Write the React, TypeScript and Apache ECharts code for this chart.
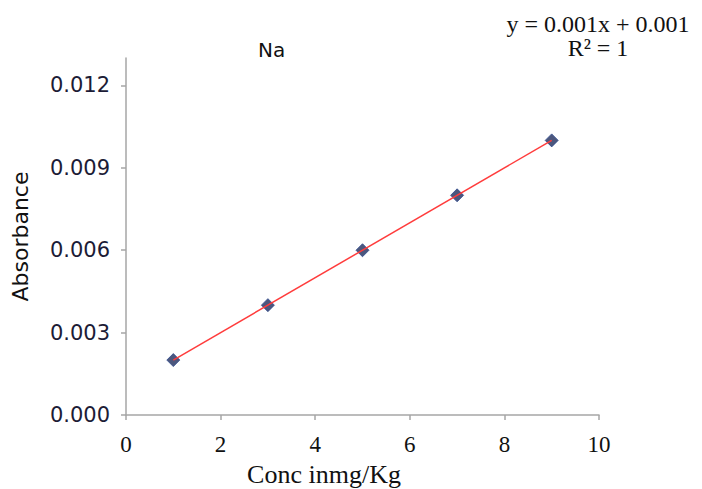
import React, { useEffect, useRef } from "react";
import * as echarts from "echarts";

const concentrations = [1, 3, 5, 7, 9];
const absorbance = [0.002, 0.004, 0.006, 0.008, 0.01];
const trendX = [1, 9];
const trendY = [0.002, 0.01];
const yTicks = [0, 0.003, 0.006, 0.009, 0.012];
const chartTitle = "Na";
const equationLines = ["y = 0.001x + 0.001", "R² = 1"];
const xName = "Conc inmg/Kg";
const yName = "Absorbance";

export default function App() {
  const ref = useRef<HTMLDivElement>(null);
  useEffect(() => {
    if (!ref.current) return;
    const chart = echarts.init(ref.current, undefined, { renderer: "svg" });
    const axisColor = "#A6A6A6";
    chart.setOption({
      animation: false,
      backgroundColor: "#ffffff",
      grid: { left: 126, right: 103, top: 58, bottom: 74 },
      xAxis: {
        type: "value",
        min: 0,
        max: 10,
        interval: 2,
        splitLine: { show: false },
        axisLine: { onZero: false, lineStyle: { color: axisColor, width: 1.5 } },
        axisTick: { show: true, inside: false, length: 5, lineStyle: { color: axisColor, width: 1.5 } },
        axisLabel: {
          margin: 18,
          color: "#111111",
          fontFamily: "Liberation Serif",
          fontSize: 23,
        },
      },
      yAxis: {
        type: "value",
        min: 0,
        max: 0.013,
        interval: 0.003,
        name: yName,
        nameLocation: "middle",
        nameGap: 95,
        nameTextStyle: { fontFamily: "DejaVu Sans", fontSize: 22, color: "#111111" },
        splitLine: { show: false },
        axisLine: { onZero: false, lineStyle: { color: axisColor, width: 1.5 } },
        axisTick: {
          show: true,
          inside: false,
          length: 5,
          customValues: yTicks,
          lineStyle: { color: axisColor, width: 1.5 },
        },
        axisLabel: {
          margin: 16,
          color: "#1c1c36",
          fontFamily: "DejaVu Sans",
          fontSize: 21,
          customValues: yTicks,
          formatter: (v: number) => v.toFixed(3),
        },
      },
      graphic: [
        {
          type: "text",
          left: 258,
          top: 40,
          style: { text: chartTitle, font: '20px "DejaVu Sans"', fill: "#111111" },
        },
        ...equationLines.map((line, i) => ({
          type: "text",
          x: 598,
          y: 12 + i * 24,
          style: {
            text: line,
            font: '24px "Liberation Serif"',
            fill: "#111111",
            align: "center",
            verticalAlign: "top",
          },
        })),
        {
          type: "text",
          x: 324,
          y: 461,
          style: {
            text: xName,
            font: '26px "Liberation Serif"',
            fill: "#111111",
            align: "center",
          },
        },
      ],
      series: [
        {
          type: "scatter",
          data: concentrations.map((x, i) => [x, absorbance[i]]),
          symbol: "diamond",
          symbolSize: 13,
          itemStyle: { color: "#1F2D5C", borderColor: "#2E4A8C", borderWidth: 1 },
          z: 2,
        },
        {
          type: "line",
          data: trendX.map((x, i) => [x, trendY[i]]),
          symbol: "none",
          lineStyle: { color: "#FF3C3C", width: 1.5 },
          z: 3,
        },
      ],
    });
    return () => chart.dispose();
  }, []);
  return (
    <div
      ref={ref}
      style={{ position: "fixed", left: 0, top: 0, width: 702, height: 489 }}
    />
  );
}
